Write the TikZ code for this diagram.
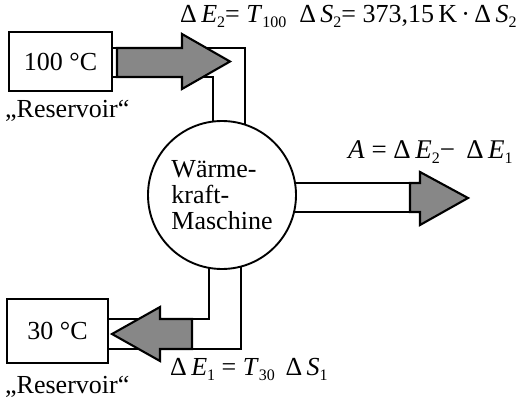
\documentclass[tikz,border=0pt]{standalone}
\usepackage{fontspec}
\setmainfont{Liberation Serif}
\usetikzlibrary{backgrounds}
\definecolor{arrowgray}{RGB}{135,135,135}
\newcommand\lo[1]{\raisebox{-5pt}{\fontsize{16}{16}\selectfont #1}}
\begin{document}
\begin{tikzpicture}[x=1pt,y=-1pt,
  ln/.style={line width=2.1pt},
  res/.style={draw, line width=2.1pt, fill=white, inner sep=0pt, font=\fontsize{26}{30}\selectfont},
  fat/.style={draw, line width=2.1pt, fill=arrowgray},
  lbl/.style={font=\fontsize{26}{30}\selectfont, inner sep=0pt}]
\useasboundingbox (0,0) rectangle (521,398);

% reservoirs and machine
\node[res, minimum width=103pt, minimum height=59pt] (hot) at (60.5,61.5) {100 °C};
\node[res, minimum width=101pt, minimum height=64pt] (cold) at (57.5,331) {30 °C};
\node[circle, draw, line width=1.9pt, fill=white, minimum size=148pt, inner sep=0pt,
      align=left, font=\fontsize{26}{26}\selectfont] (m) at (222,195) {Wärme-\\kraft-\\Maschine};

% pipes (behind)
\begin{scope}[on background layer]
  \draw[ln] (hot.east |- 0,48) -- (245,48) -- (245,200);
  \draw[ln] (hot.east |- 0,77) -- (213,77) -- (213,200);
  \draw[ln] (cold.east |- 0,319) -- (209,319) -- (209,190);
  \draw[ln] (cold.east |- 0,349) -- (241,349) -- (241,190);
  \draw[ln] (m.center |- 0,183) -- (410,183);
  \draw[ln] (m.center |- 0,212) -- (410,212);
\end{scope}

% energy arrows
\draw[fat] (117,48) -- (182,48) -- (182,34) -- (230,61.5) -- (182,89) -- (182,77) -- (117,77) -- cycle;
\draw[fat] (192,319) -- (160,319) -- (160,307) -- (112,334) -- (160,361) -- (160,349) -- (192,349) -- cycle;
\draw[fat] (410,183) -- (420,183) -- (420,172) -- (468,198) -- (420,225) -- (420,212) -- (410,212) -- cycle;

% labels
\node[lbl, anchor=base west] (rl1) at (5,118) {„Reservoir“};
\node[lbl, anchor=base west] (rl2) at (5,393) {„Reservoir“};
\node[lbl, anchor=base west] (f2) at (180,23)
  {Δ\,\textit{E}\lo{2}= \textit{T}\lo{100}\ \ Δ\,\textit{S}\lo{2}= 373,15\,K\,·\,Δ\,\textit{S}\lo{2}};
\node[lbl, anchor=base west, font=\fontsize{27}{30}\selectfont] (fa) at (348,158)
  {\textit{A} = Δ\,\textit{E}\lo{2}− \,Δ\,\textit{E}\/\lo{1}};
\node[lbl, anchor=base west] (f1) at (170,375)
  {Δ\,\textit{E}\lo{1} = \textit{T}\lo{30}\ \,Δ\,\textit{S}\lo{1}};
\end{tikzpicture}
\end{document}
